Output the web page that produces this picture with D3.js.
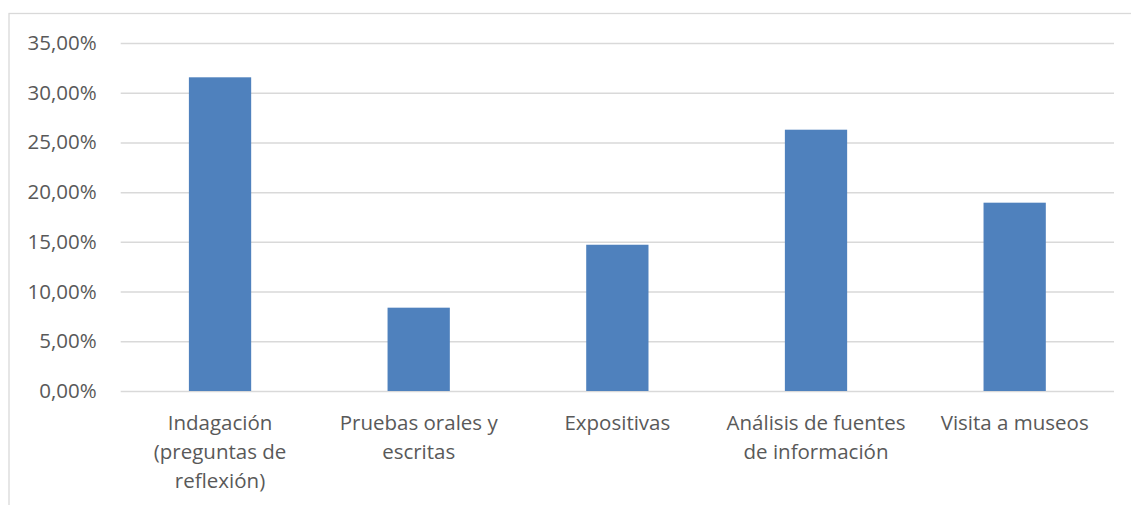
<!DOCTYPE html>
<html><head><meta charset="utf-8">
<script src="https://cdn.jsdelivr.net/npm/d3@7"></script>
<style>
html,body{margin:0;padding:0;background:#fff;}
svg{display:block;}
text{font-family:"Open Sans",sans-serif;fill:#595959;}
</style></head>
<body>
<svg id="chart" width="1131" height="505"></svg>
<script>
const categories = [
  ["Indagación","(preguntas de","reflexión)"],
  ["Pruebas orales y","escritas"],
  ["Expositivas"],
  ["Análisis de fuentes","de información"],
  ["Visita a museos"]
];
const values = [0.3155, 0.0838, 0.1471, 0.2628, 0.1894];
const yTicks = [0,0.05,0.10,0.15,0.20,0.25,0.30,0.35];

(function(){
const svg = d3.select("#chart");
const pLeft = 120.7, pRight = 1114, pTop = 43, pBottom = 391;

svg.append("rect").attr("x",9).attr("y",13.5).attr("width",1140).attr("height",520)
  .attr("fill","none").attr("stroke","#d9d9d9").attr("stroke-width",1.3);

const x = d3.scaleBand().domain(d3.range(categories.length)).range([pLeft,pRight])
  .paddingInner(0.6865).paddingOuter(0.6865/2);
const y = d3.scaleLinear().domain([0,0.35]).range([pBottom,pTop]);

const fmt = v => d3.format(".2f")(v*100).replace(".",",") + "%";

const yAxis = d3.axisLeft(y).tickValues(yTicks).tickFormat(fmt).tickSize(-(pRight-pLeft)).tickPadding(24);
const gy = svg.append("g").attr("transform",`translate(${pLeft},0)`).call(yAxis);
gy.select(".domain").remove();
gy.selectAll(".tick line").attr("stroke","#d9d9d9").attr("stroke-width",1.5);
gy.selectAll(".tick text").attr("font-size","20.5px").attr("fill","#595959").attr("font-family","Open Sans");

svg.append("g").selectAll("rect").data(values).join("rect")
  .attr("x",(d,i)=>x(i)).attr("width",x.bandwidth())
  .attr("y",d=>y(d)).attr("height",d=>pBottom-y(d))
  .attr("fill","#4f81bd");

const xAxis = d3.axisBottom(x).tickSize(0).tickFormat(()=> "");
const gx = svg.append("g").attr("transform",`translate(0,${pBottom})`).call(xAxis);
gx.select(".domain").remove();
gx.selectAll(".tick").each(function(i){
  const t = d3.select(this).append("text").attr("text-anchor","middle")
    .attr("font-size","20.5px").attr("fill","#595959");
  categories[i].forEach((line,k)=>{
    t.append("tspan").attr("x",0).attr("y",39 + k*29).text(line);
  });
});
})();
</script>
</body></html>
